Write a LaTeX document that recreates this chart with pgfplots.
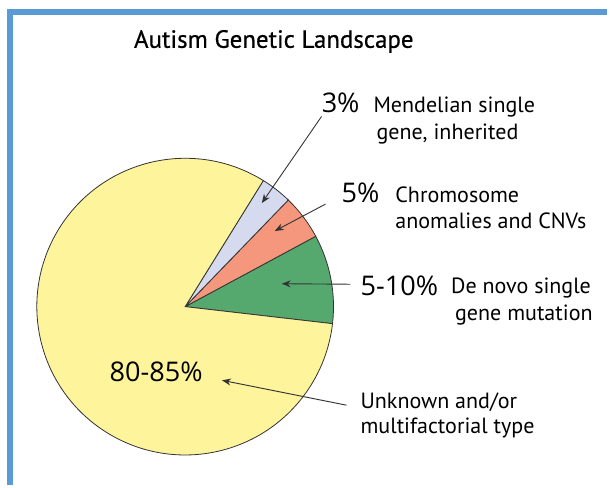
\documentclass[border=0pt]{standalone}
\usepackage{pgfplots}
\pgfplotsset{compat=1.18}
\usepackage{pgfplotstable}
\usepackage{fontspec}
\setmainfont{PT Sans}
\newfontfamily\pctfont{Open Sans}
\newfontfamily\titlefont[FakeBold=0.6]{PT Sans}
\usetikzlibrary{arrows.meta}

\definecolor{pyellow}{HTML}{FDF49C}
\definecolor{pgreen}{HTML}{55A96F}
\definecolor{porange}{HTML}{F4977C}
\definecolor{plav}{HTML}{D6DAEE}
\definecolor{pblue}{HTML}{5B9BD5}
\definecolor{pline}{HTML}{333333}

% share of each slice (percent), counter-clockwise from the lower edge of the green slice
\pgfplotstableread{
share
9.7
4.9
3.4
82.0
}\piedata

\pgfplotstablegetelem{0}{share}\of\piedata \let\sA\pgfplotsretval
\pgfplotstablegetelem{1}{share}\of\piedata \let\sB\pgfplotsretval
\pgfplotstablegetelem{2}{share}\of\piedata \let\sC\pgfplotsretval
\pgfplotstablegetelem{3}{share}\of\piedata \let\sD\pgfplotsretval
\pgfmathsetmacro\aA{-6.6}
\pgfmathsetmacro\aB{\aA+3.6*\sA}
\pgfmathsetmacro\aC{\aB+3.6*\sB}
\pgfmathsetmacro\aD{\aC+3.6*\sC}
\pgfmathsetmacro\aE{\aD+3.6*\sD}

\begin{document}
\begin{tikzpicture}
\begin{axis}[
  scale only axis, width=610bp, height=487bp,
  xmin=0, xmax=610, ymin=0, ymax=487, y dir=reverse,
  hide axis, clip=false,
]
\path (axis cs:0,0) rectangle (axis cs:610,487);
% frame
\draw[pblue, line width=5.5bp] (axis cs:10,487) -- (axis cs:10,12.2) -- (axis cs:610,12.2);
% pie
\def\R{149bp}
\filldraw[fill=pgreen, draw=pline, line width=0.8bp] (axis cs:186,308) -- ++(\aA:\R) arc[start angle=\aA, end angle=\aB, radius=\R] -- cycle;
\filldraw[fill=porange, draw=pline, line width=0.8bp] (axis cs:186,308) -- ++(\aB:\R) arc[start angle=\aB, end angle=\aC, radius=\R] -- cycle;
\filldraw[fill=plav, draw=pline, line width=0.8bp] (axis cs:186,308) -- ++(\aC:\R) arc[start angle=\aC, end angle=\aD, radius=\R] -- cycle;
\filldraw[fill=pyellow, draw=pline, line width=0.8bp] (axis cs:186,308) -- ++(\aD:\R) arc[start angle=\aD, end angle=\aE, radius=\R] -- cycle;
% arrows
\tikzset{parr/.style={pline, line width=0.9bp, -{Stealth[length=9bp, width=7bp]}}}
\draw[parr] (axis cs:323,117) -- (axis cs:263,204);
\draw[parr] (axis cs:327,205) -- (axis cs:276,232);
\draw[parr] (axis cs:352,285.5) -- (axis cs:283,285);
\draw[parr] (axis cs:348,407) -- (axis cs:223,382);
% title
\node[anchor=base, inner sep=0, font=\titlefont\fontsize{25.1}{28}\selectfont] at (axis cs:275,48) {Autism Genetic Landscape};
% labels
\tikzset{pct/.style={anchor=base west, inner sep=0, font=\pctfont\fontsize{27.3}{30}\selectfont},
         lab/.style={anchor=base west, inner sep=0, font=\fontsize{22.2}{26}\selectfont}}
\node[pct] at (axis cs:323,113) {3\%};
\node[lab] at (axis cs:375,113) {Mendelian single};
\node[lab] at (axis cs:378,140) {gene, inherited};
\node[pct] at (axis cs:343,203) {5\%};
\node[lab] at (axis cs:397,203) {Chromosome};
\node[lab] at (axis cs:397,230) {anomalies and CNVs};
\node[pct] at (axis cs:362,297) {5-10\%};
\node[lab] at (axis cs:453,295) {De novo single};
\node[lab] at (axis cs:457,322) {gene mutation};
\node[pct] at (axis cs:110,383) {80-85\%};
\node[lab] at (axis cs:362,410) {Unknown and/or};
\node[lab] at (axis cs:362,435) {multifactorial type};
\end{axis}
\end{tikzpicture}
\end{document}
